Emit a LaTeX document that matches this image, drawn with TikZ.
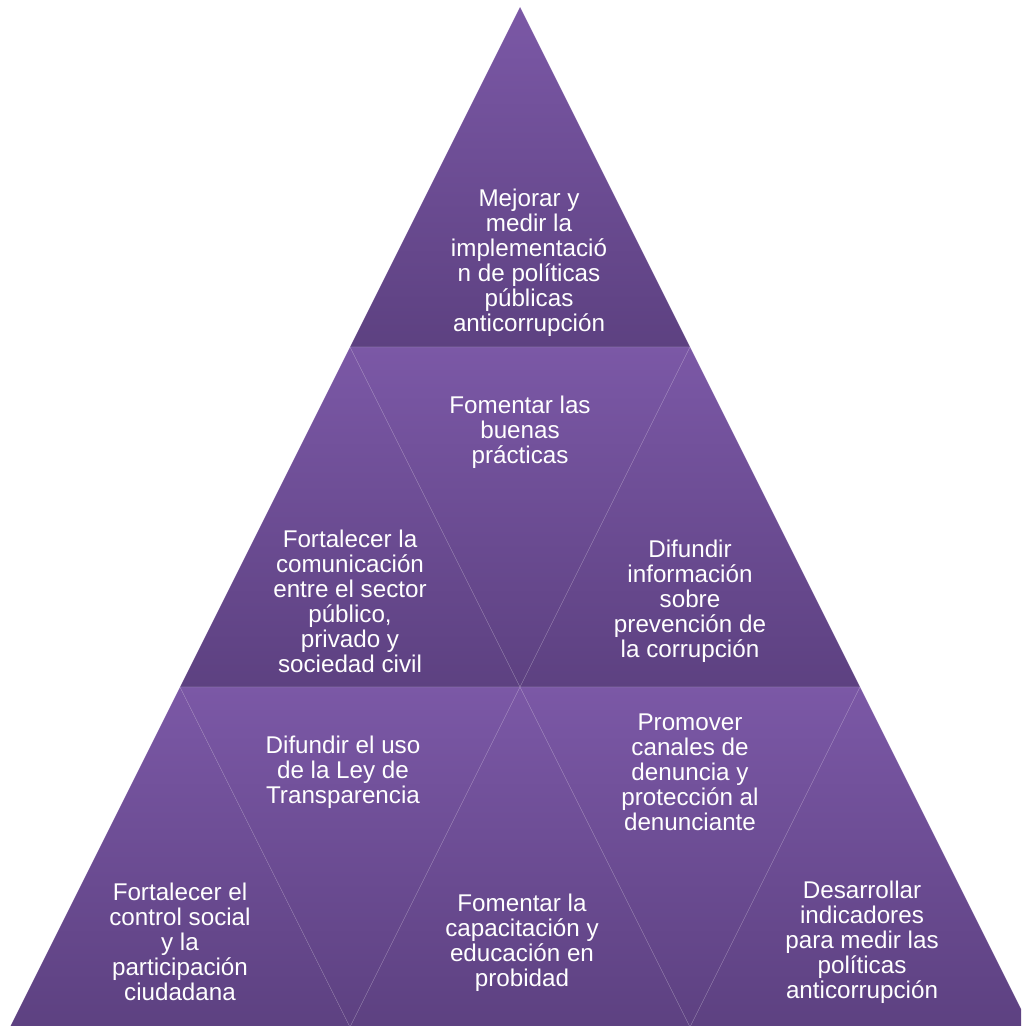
\documentclass[tikz,border=0pt]{standalone}
\usepackage{fontspec}
\setmainfont{Liberation Sans}
\definecolor{pyrtop}{RGB}{123,88,166}
\definecolor{pyrbot}{RGB}{93,65,129}

\begin{document}
\begin{tikzpicture}
      [x = 1pt, y = -1pt,
      tri/.style= {
         top color = pyrtop,
         bottom color = pyrbot,
         draw = white,
         draw opacity = 0.12,
         line width = 0.6pt
      },
      txt/.style= {
         text = white,
         align = center,
         inner sep = 0pt,
         font = \fontsize{24.2}{25}\selectfont
      }]

      \useasboundingbox (0, 0) rectangle (1021, 1026);
      \clip (0, 0) rectangle (1021, 1026);

      % top row
      \shadedraw[tri] (520, 7) -- (690, 347) -- (350, 347) -- cycle;

      % middle row
      \shadedraw[tri] (350, 347) -- (520, 687) -- (180, 687) -- cycle;
      \shadedraw[tri] (350, 347) -- (690, 347) -- (520, 687) -- cycle;
      \shadedraw[tri] (690, 347) -- (860, 687) -- (520, 687) -- cycle;

      % bottom row
      \shadedraw[tri] (180, 687) -- (350, 1027) -- (10, 1027) -- cycle;
      \shadedraw[tri] (180, 687) -- (520, 687) -- (350, 1027) -- cycle;
      \shadedraw[tri] (520, 687) -- (690, 1027) -- (350, 1027) -- cycle;
      \shadedraw[tri] (520, 687) -- (860, 687) -- (690, 1027) -- cycle;
      \shadedraw[tri] (860, 687) -- (1030, 1027) -- (690, 1027) -- cycle;

      \node[txt] (medir) at (529, 263)
         {Mejorar y\\medir la\\implementació\\n de políticas\\públicas\\anticorrupción};
      \node[txt] (buenas) at (520, 432)
         {Fomentar las\\buenas\\prácticas};
      \node[txt] (comunic) at (350, 601)
         {Fortalecer la\\comunicación\\entre el sector\\público,\\privado y\\sociedad civil};
      \node[txt] (difinfo) at (690, 601)
         {Difundir\\información\\sobre\\prevención de\\la corrupción};
      \node[txt] (leytransp) at (343, 772)
         {Difundir el uso\\de la Ley de\\Transparencia};
      \node[txt] (denuncia) at (690, 772)
         {Promover\\canales de\\denuncia y\\protección al\\denunciante};
      \node[txt] (control) at (180, 942)
         {Fortalecer el\\control social\\y la\\participación\\ciudadana};
      \node[txt] (capacit) at (522, 943)
         {Fomentar la\\capacitación y\\educación en\\probidad};
      \node[txt] (indicad) at (862, 942)
         {Desarrollar\\indicadores\\para medir las\\políticas\\anticorrupción};

   \end{tikzpicture}
\end{document}
